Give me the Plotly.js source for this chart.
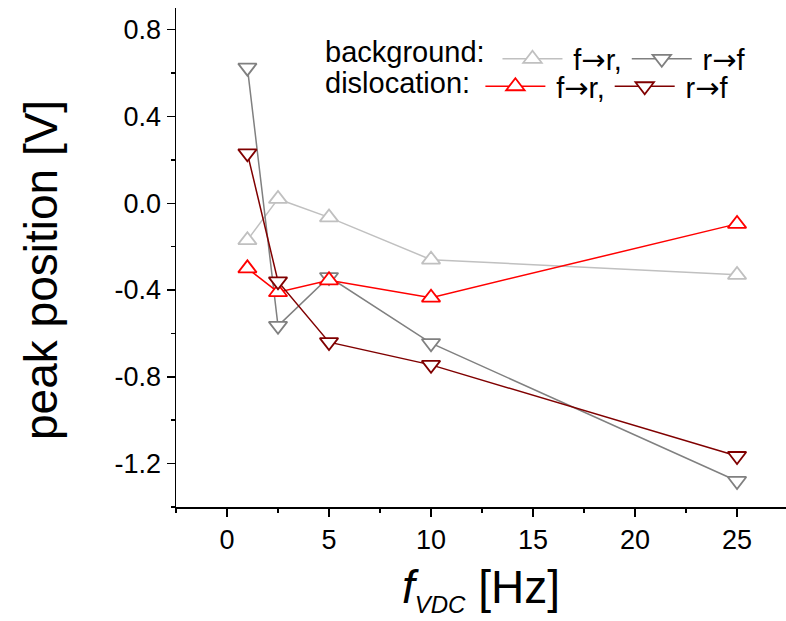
<!DOCTYPE html>
<html>
<head>
<meta charset="utf-8">
<script src="https://cdn.plot.ly/plotly-3.0.1.min.js"></script>
<style>html,body{margin:0;padding:0;background:#fff;}</style>
</head>
<body>
<div id="chart" style="width:786px;height:621px;"></div>
<script>
// Data
const freq = [1, 2.5, 5, 10, 25];
const bgFR = [-0.17, 0.02, -0.065, -0.26, -0.33];
const bgRF = [0.625, -0.565, -0.34, -0.645, -1.28];
const disFR = [-0.30, -0.41, -0.355, -0.435, -0.095];
const disRF = [0.23, -0.36, -0.64, -0.745, -1.165];

const yTickVals = [-1.2, -0.8, -0.4, 0.0, 0.4, 0.8];
const yTickText = ['-1.2', '-0.8', '-0.4', '0.0', '0.4', '0.8'];
const xTickVals = [0, 5, 10, 15, 20, 25];
const xTickText = ['0', '5', '10', '15', '20', '25'];

const FONT = 'Liberation Sans, Arial, Helvetica, sans-serif';
const ARROW = '<span style="font-family:DejaVu Sans">\u2192</span>';
const nameFR = '\u2009f' + ARROW + 'r,';
const nameRF = '\u2009r' + ARROW + 'f';

function tr(y, name, color, symbol, legend) {
  return {
    x: freq, y: y, name: name, type: 'scatter', mode: 'lines+markers',
    line: {color: color, width: 1.5},
    marker: {symbol: symbol, size: 16, color: '#ffffff', line: {color: color, width: 1.8}},
    legend: legend
  };
}

const traces = [
  tr(bgFR, nameFR, '#c0c0c0', 'triangle-up', 'legend'),
  tr(bgRF, nameRF, '#808080', 'triangle-down', 'legend'),
  tr(disFR, nameFR, '#ff0000', 'triangle-up', 'legend2'),
  tr(disRF, nameRF, '#800000', 'triangle-down', 'legend2')
];

const LFONT = 29;

const layout = {
  width: 786, height: 621,
  margin: {l: 176, r: 0, t: 8, b: 114},
  paper_bgcolor: '#ffffff', plot_bgcolor: '#ffffff',
  font: {family: FONT, color: '#000000', size: 27},
  showlegend: true,
  xaxis: {
    range: [-2.5, 27.4], showgrid: false, zeroline: false,
    showline: true, linecolor: '#000', linewidth: 1.5,
    ticks: 'outside', ticklen: 8, tickwidth: 1.5, tickcolor: '#000',
    tickmode: 'array', tickvals: xTickVals, ticktext: xTickText,
    tickfont: {size: 27, family: FONT},
    minor: {ticks: 'outside', ticklen: 4, tickwidth: 1.5, tickcolor: '#000', tickmode: 'linear', tick0: -2.5, dtick: 5, showgrid: false},
    title: {text: '<i>f</i><sub><span style="font-size:24px"><i>VDC</i></span></sub> [Hz]', font: {size: 46, family: FONT}, standoff: 17},
    automargin: false
  },
  yaxis: {
    range: [-1.4, 0.9], showgrid: false, zeroline: false,
    showline: true, linecolor: '#000', linewidth: 1.5,
    ticks: 'outside', ticklen: 8, tickwidth: 1.5, tickcolor: '#000',
    tickmode: 'array', tickvals: yTickVals, ticktext: yTickText,
    tickfont: {size: 27, family: FONT},
    minor: {ticks: 'outside', ticklen: 4, tickwidth: 1.5, tickcolor: '#000', tickmode: 'linear', tick0: -1.4, dtick: 0.4, showgrid: false},
    automargin: false
  },
  legend: {
    orientation: 'h', x: 0.527, y: 0.949, xanchor: 'left', yanchor: 'top',
    font: {size: LFONT, family: FONT}, bgcolor: 'rgba(0,0,0,0)', itemwidth: 60,
    tracegroupgap: 0, itemclick: false
  },
  legend2: {
    orientation: 'h', x: 0.499, y: 0.894, xanchor: 'left', yanchor: 'top',
    font: {size: LFONT, family: FONT}, bgcolor: 'rgba(0,0,0,0)', itemwidth: 60,
    tracegroupgap: 0, itemclick: false
  },
  annotations: [
    {text: 'background:', xref: 'paper', yref: 'paper', x: 0.241, y: 0.912, xanchor: 'left', yanchor: 'middle', showarrow: false, font: {size: LFONT, family: FONT}},
    {text: 'dislocation:', xref: 'paper', yref: 'paper', x: 0.241, y: 0.850, xanchor: 'left', yanchor: 'middle', showarrow: false, font: {size: LFONT, family: FONT}},
    {text: 'peak position [V]', xref: 'paper', yref: 'paper', x: -0.2213, y: 0.475, xanchor: 'center', yanchor: 'middle', textangle: -90, showarrow: false, font: {size: 46, family: FONT}}
  ]
};

Plotly.newPlot('chart', traces, layout, {displayModeBar: false, staticPlot: true});
</script>
</body>
</html>
